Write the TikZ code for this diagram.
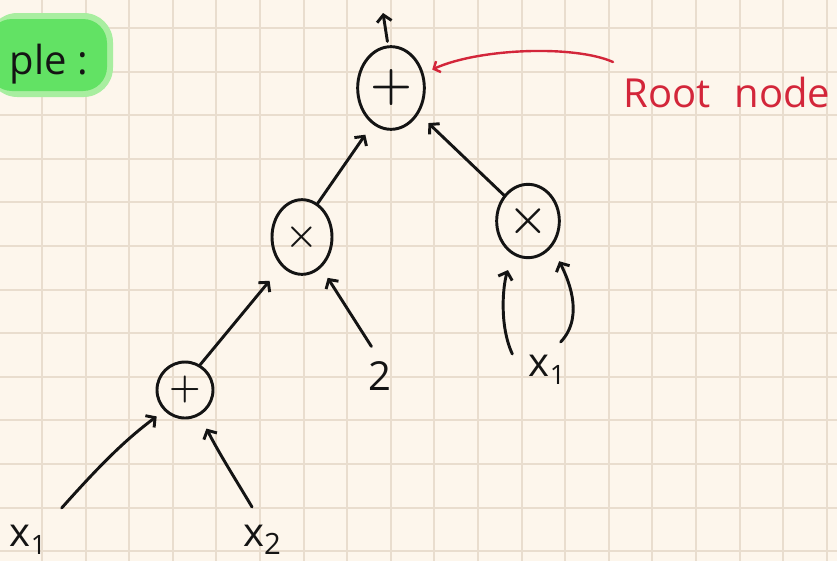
\documentclass[tikz,border=0pt]{standalone}
\usepackage{fontspec}
\newfontfamily\hand{Open Sans}
\usetikzlibrary{arrows.meta,shapes.geometric}
\definecolor{paper}{HTML}{FDF6EC}
\definecolor{gridline}{HTML}{E9DDCE}
\definecolor{marker}{HTML}{62E264}
\definecolor{markerrim}{HTML}{A8EEA0}
\definecolor{inkred}{HTML}{D3263A}
\definecolor{ink}{HTML}{141414}

\begin{document}
\begin{tikzpicture}[x=0.75pt,y=-0.75pt,
  opnode/.style={ellipse, draw=ink, line width=2.2pt, inner sep=0pt, text=ink},
  leaf/.style={inner sep=1pt, text=ink, font=\hand\fontsize{30}{30}\selectfont},
  arr/.style={draw=ink, line width=2.2pt, line cap=round, line join=round,
              -{Straight Barb[length=5pt,width=11pt]}},
  redarr/.style={draw=inkred, line width=1.8pt, line cap=round,
              -{Straight Barb[length=4pt,width=9pt]}}]

% paper and grid
\fill[paper] (0,0) rectangle (837,561);
\useasboundingbox (0,0) rectangle (837,561);
\foreach \i in {-1,...,18}
  \draw[gridline, line width=1.5pt] ({42+43.6*\i},0) -- ({42+43.6*\i},561);
\foreach \j in {0,...,12}
  \draw[gridline, line width=1.5pt] (0,{28+43.6*\j}) -- (837,{28+43.6*\j});

% highlighted heading
\fill[markerrim, rounded corners=22pt] (-12,13) rectangle (113,97);
\fill[marker, rounded corners=18pt] (-12,19) rectangle (107,91);
\node[font=\hand\fontsize{30}{30}\selectfont, text=ink] (hdr) at (49,64) {ple :};

% operator nodes
\node[opnode, minimum width=50pt, minimum height=62pt,
      font=\rmfamily\bfseries\fontsize{36}{36}\selectfont] (root) at (391,88) {+};
\node[opnode, minimum width=45pt, minimum height=56pt,
      font=\rmfamily\bfseries\fontsize{28}{28}\selectfont] (mul) at (302,237) {×};
\node[opnode, minimum width=47pt, minimum height=55pt,
      font=\rmfamily\bfseries\fontsize{34}{34}\selectfont] (sq) at (528,221) {×};
\node[opnode, minimum width=42pt, minimum height=42pt,
      font=\rmfamily\bfseries\fontsize{27}{27}\selectfont] (add) at (185,390) {+};

% leaves
\node[leaf] (two) at (380,376) {2};
\node[leaf] (xr) at (547,370) {x\raisebox{-0.35ex}{\fontsize{20}{20}\selectfont 1}};
\node[leaf] (xa) at (28,540) {x\raisebox{-0.35ex}{\fontsize{20}{20}\selectfont 1}};
\node[leaf] (xb) at (262,540) {x\raisebox{-0.35ex}{\fontsize{22}{22}\selectfont 2}};

% label for the root
\node[font=\hand\fontsize{30}{30}\selectfont, text=inkred] (lbl) at (727,92) {Root\hspace{0.6em}node};
\coordinate (rs) at (613,62);
\draw[redarr, shorten >=7pt] (rs) .. controls (575,45) and (480,48) .. (root);

% output of the root
\coordinate (up) at (383,13);
\draw[arr, shorten <=3pt] (root.94) -- (up);

% edges of the tree
\draw[arr, shorten >=9.5pt] (mul.65) -- (root.243);
\draw[arr, shorten >=10pt] (sq.133) -- (root.317);
\draw[arr, shorten >=14pt] (add.59) -- (mul.235);
\draw[arr, shorten <=12pt, shorten >=9pt] (two.north) -- (mul.302);
\draw[arr, shorten >=12pt] ([shift={(-15,0)}]xr.north west)
   .. controls (499,325) and (503,285) .. (sq.246);
\draw[arr, shorten >=12pt] ([shift={(-6,-12)}]xr.north east)
   .. controls (586,315) and (566,275) .. (sq.313);
\draw[arr, shorten >=7pt] ([shift={(14,-16)}]xa.north east)
   .. controls (100,465) and (125,440) .. (add.225);
\draw[arr, shorten >=11pt] ([shift={(-10,-17)}]xb.north)
   .. controls (236,480) and (220,455) .. (add.300);
\end{tikzpicture}
\end{document}
